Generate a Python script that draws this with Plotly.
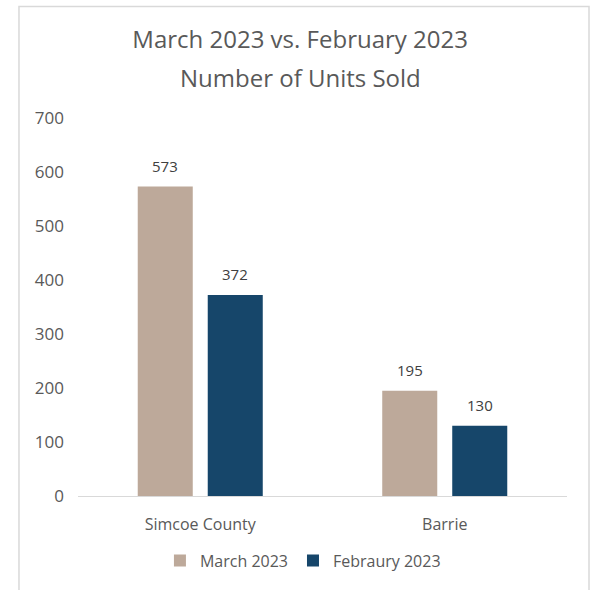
import plotly.graph_objects as go

# Units sold by market, two months compared
categories = ["Simcoe County", "Barrie"]
march_2023 = [573, 195]
february_2023 = [372, 130]
series_names = ["March 2023", "Febraury 2023"]
series_colors = ["#BDA99A", "#16466A"]
y_ticks = [0, 100, 200, 300, 400, 500, 600, 700]
title_lines = ["March 2023 vs. February 2023", "Number of Units Sold"]

FONT = "Open Sans"
TEXT_GREY = "#595959"
LABEL_GREY = "#404040"

fig = go.Figure()
for name, vals, color in zip(series_names, [march_2023, february_2023], series_colors):
    fig.add_trace(go.Bar(
        x=categories, y=vals, name=name,
        marker=dict(color=color, line=dict(width=0)),
        hoverinfo="x+y+name",
    ))

# value labels above each bar
offsets = [-35, 35]
annotations = []
for shift, vals in zip(offsets, [march_2023, february_2023]):
    for cat, v in zip(categories, vals):
        annotations.append(dict(
            x=cat, y=v, xref="x", yref="y", text=str(v),
            showarrow=False, xshift=shift, yshift=9, yanchor="bottom",
            font=dict(family=FONT, size=15, color=LABEL_GREY),
        ))

# second title line
annotations.append(dict(
    text=title_lines[1], showarrow=False,
    xref="paper", yref="paper", x=0.455, xanchor="center",
    y=1.108, yanchor="middle",
    font=dict(family=FONT, size=24, color=TEXT_GREY),
))

fig.update_layout(
    width=592, height=590,
    margin=dict(l=78, r=25, t=118, b=92),
    paper_bgcolor="white", plot_bgcolor="white",
    barmode="group", bargap=0.4274, bargroupgap=0.214,
    font=dict(family=FONT, size=16, color=TEXT_GREY),
    title=dict(
        text=title_lines[0],
        font=dict(family=FONT, size=24, color=TEXT_GREY),
        xref="container", x=0.507, xanchor="center",
        yref="container", y=1 - 40 / 590, yanchor="middle",
    ),
    xaxis=dict(
        showline=True, linecolor="#D9D9D9", linewidth=1,
        showgrid=False, zeroline=False, ticks="",
        tickfont=dict(family=FONT, size=16, color=TEXT_GREY),
        ticklabelstandoff=14,
    ),
    yaxis=dict(
        range=[0, 700], tickvals=y_ticks,
        showline=False, showgrid=False, zeroline=False, ticks="",
        tickfont=dict(family=FONT, size=17, color=TEXT_GREY),
        ticklabelstandoff=13,
    ),
    legend=dict(
        orientation="h", xref="paper", yref="paper",
        x=0.460, xanchor="center", y=-0.171, yanchor="middle",
        font=dict(family=FONT, size=16, color=TEXT_GREY),
        itemwidth=30, bgcolor="rgba(0,0,0,0)",
    ),
    annotations=annotations,
    shapes=[dict(
        type="rect", xref="paper", yref="paper",
        x0=-0.1207, x1=1.045, y0=-0.35, y1=1.2947,
        line=dict(color="#D9D9D9", width=1.5), fillcolor="rgba(0,0,0,0)",
        layer="below",
    )],
)

fig.write_html("out.html")
